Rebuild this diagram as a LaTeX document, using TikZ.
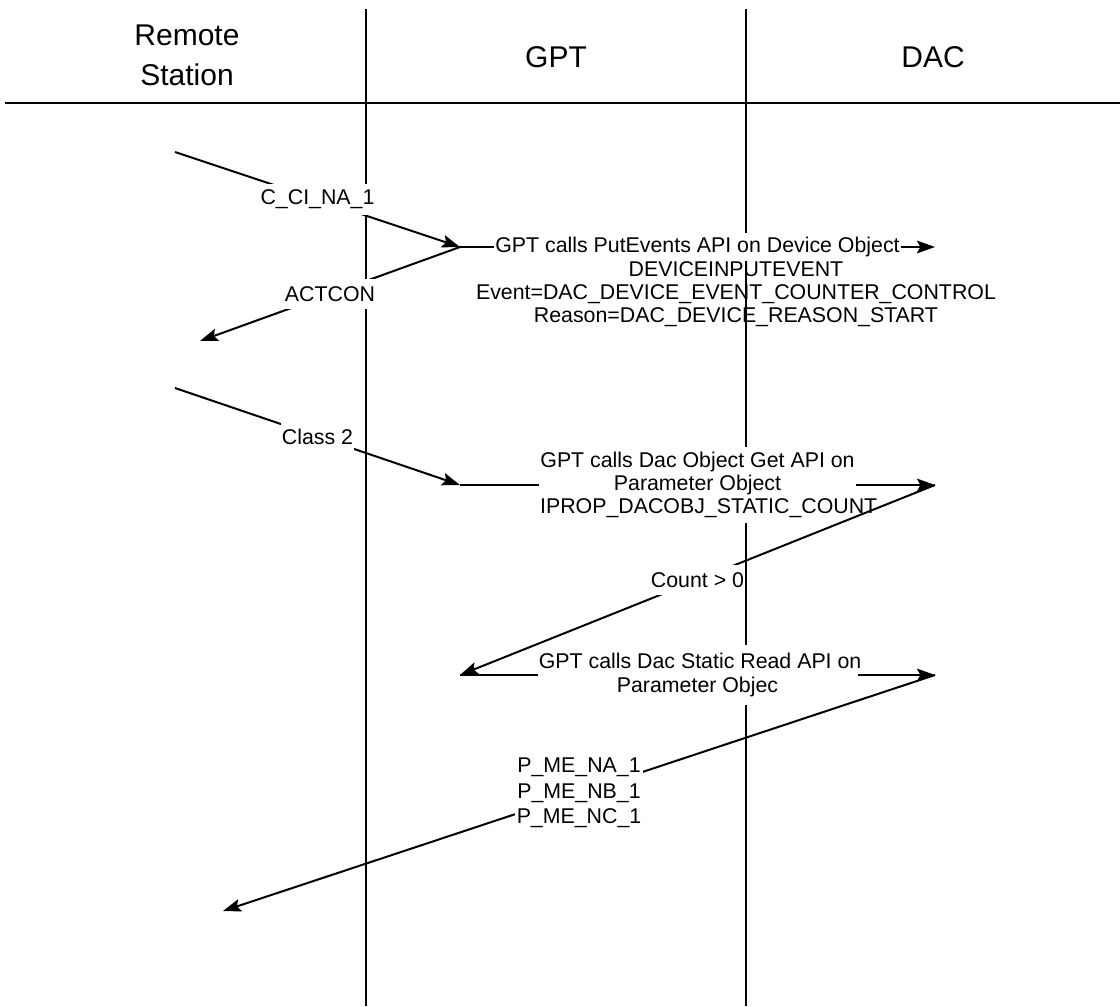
\documentclass[tikz,border=0pt]{standalone}
\usepackage{fontspec}
\setmainfont{Liberation Sans}
\usetikzlibrary{arrows.meta}
\begin{document}
\begin{tikzpicture}[x=0.75pt,y=-0.75pt,
  life/.style={line width=1.5pt},
  rule/.style={line width=2.2pt},
  msg/.style={line width=1.5pt,-{Stealth[length=13.5pt,width=9.5pt,inset=2.5pt]}},
  head/.style={font=\fontsize{22.5}{30}\selectfont,align=center,inner sep=0pt},
  lbl/.style={font=\fontsize{16}{17.4}\selectfont,fill=white,inner xsep=1pt,inner ysep=1pt,minimum height=23pt,align=center},
  txt/.style={font=\fontsize{16}{17.4}\selectfont,inner sep=0pt,align=center}
]
\useasboundingbox (0,0) rectangle (1120,1006);
\fill[white] (0,0) rectangle (1120,1006);

% participants
\node[head] (rs)  at (187,55) {Remote\\Station};
\node[head] (gpt) at (556,57) {GPT};
\node[head] (dac) at (933,57) {DAC};

% lifelines and header rule
\coordinate (gtop) at (366,9);   \coordinate (gbot) at (366,1006);
\coordinate (dtop) at (746,9);   \coordinate (dbot) at (746,1006);
\coordinate (hl) at (5,103);     \coordinate (hr) at (1120,103);
\draw[life] (gtop) -- (gbot);
\draw[life] (dtop) -- (dbot);
\draw[rule] (hl) -- (hr);

% message end points
\coordinate (rs1) at (175,152);
\coordinate (g1)  at (460,247);
\coordinate (d1)  at (935,247);
\coordinate (rs2) at (200,341);
\coordinate (rs3) at (175,388);
\coordinate (g2)  at (460,485);
\coordinate (d2)  at (935,485);
\coordinate (g3)  at (460,675);
\coordinate (d3)  at (935,675);
\coordinate (rs4) at (223,911);

% messages
\draw[msg] (rs1) -- node[lbl] (m1) {C\_CI\_NA\_1} (g1);
\draw[msg] (g1) -- node[lbl] (m2) {ACTCON} (rs2);
\draw[msg] (g1) -- node[lbl,minimum height=21pt] (m3) {GPT calls PutEvents API on Device Object} (d1);
\node[txt] (m3b) at (736,294) {DEVICEINPUTEVENT\\Event=DAC\_DEVICE\_EVENT\_COUNTER\_CONTROL\\Reason=DAC\_DEVICE\_REASON\_START};
\draw[msg] (rs3) -- node[lbl,minimum height=20pt] (m4) {Class 2} (g2);
\draw[msg] (g2) -- node[lbl,inner ysep=4pt] (m5) {GPT calls Dac Object Get API on\\Parameter Object\\\makebox[236pt][l]{IPROP\_DACOBJ\_STATIC\_COUNT}} (d2);
\draw[msg] (d2) -- node[lbl] (m6) {Count > 0} (g3);
\draw[msg] (g3) -- node[lbl,inner ysep=6pt] (m7) {\makebox[238pt][l]{GPT calls Dac Static Read API on}\\Parameter Objec} (d3);
\draw[msg] (d3) -- node[lbl,font=\fontsize{16}{19}\selectfont] (m8) {P\_ME\_NA\_1\\P\_ME\_NB\_1\\P\_ME\_NC\_1} (rs4);
\end{tikzpicture}
\end{document}
